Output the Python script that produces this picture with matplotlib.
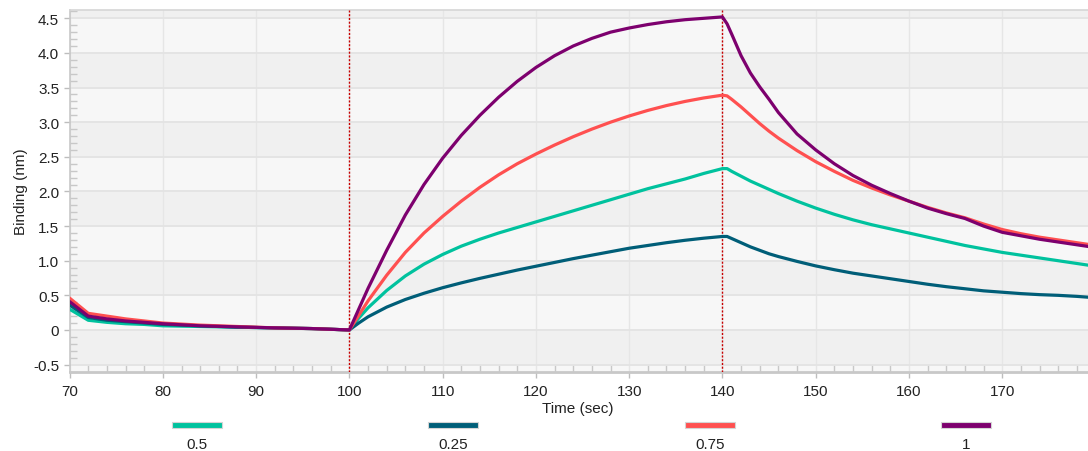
import matplotlib
matplotlib.use("Agg")
import matplotlib.pyplot as plt
from matplotlib.patches import Rectangle
from matplotlib.ticker import MultipleLocator, FixedLocator, FixedFormatter

plt.rcParams['font.family'] = ['Liberation Sans', 'DejaVu Sans']

# Sensorgram time base (sec)
time_s = [70, 72, 74, 76, 78, 80, 84, 88, 92, 96, 100, 101, 102, 104, 106, 108,
          110, 112, 114, 116, 118, 120, 122, 124, 126, 128, 130, 132, 134, 136,
          138, 140, 140.5, 141, 142, 143, 144, 145, 146, 148, 150, 152, 154, 156,
          158, 160, 162, 164, 166, 168, 170, 172, 174, 176, 178, 179.5]

# Binding response (nm) for each analyte concentration
binding_0_5 = [0.30, 0.14, 0.11, 0.09, 0.08, 0.06, 0.05, 0.04, 0.03, 0.02, 0.00,
               0.17, 0.32, 0.57, 0.78, 0.95, 1.09, 1.21, 1.31, 1.40, 1.48, 1.56,
               1.64, 1.72, 1.80, 1.88, 1.96, 2.04, 2.11, 2.18, 2.26, 2.33, 2.33,
               2.29, 2.22, 2.15, 2.09, 2.03, 1.97, 1.86, 1.76, 1.67, 1.59, 1.52,
               1.46, 1.40, 1.34, 1.28, 1.22, 1.17, 1.12, 1.08, 1.04, 1.00, 0.96, 0.93]

binding_0_25 = [0.36, 0.18, 0.14, 0.12, 0.10, 0.08, 0.06, 0.04, 0.03, 0.02, 0.00,
                0.10, 0.19, 0.33, 0.44, 0.53, 0.61, 0.68, 0.745, 0.805, 0.865, 0.92,
                0.975, 1.03, 1.08, 1.13, 1.18, 1.22, 1.26, 1.295, 1.325, 1.35, 1.35,
                1.32, 1.26, 1.20, 1.15, 1.10, 1.06, 0.99, 0.925, 0.87, 0.82, 0.78,
                0.74, 0.70, 0.66, 0.625, 0.595, 0.565, 0.545, 0.525, 0.51, 0.50, 0.485, 0.47]

binding_0_75 = [0.46, 0.24, 0.20, 0.16, 0.13, 0.10, 0.07, 0.05, 0.03, 0.02, 0.00,
                0.21, 0.42, 0.79, 1.12, 1.40, 1.64, 1.86, 2.06, 2.24, 2.40, 2.54,
                2.67, 2.79, 2.90, 3.00, 3.09, 3.17, 3.24, 3.30, 3.35, 3.39, 3.38,
                3.33, 3.22, 3.10, 2.98, 2.87, 2.77, 2.59, 2.43, 2.29, 2.16, 2.05,
                1.95, 1.86, 1.77, 1.69, 1.62, 1.53, 1.45, 1.39, 1.34, 1.30, 1.26, 1.23]

binding_1 = [0.41, 0.20, 0.16, 0.13, 0.11, 0.09, 0.06, 0.045, 0.03, 0.02, 0.00,
             0.30, 0.60, 1.15, 1.66, 2.10, 2.48, 2.81, 3.10, 3.36, 3.59, 3.79,
             3.96, 4.10, 4.21, 4.30, 4.36, 4.41, 4.45, 4.48, 4.50, 4.52, 4.42,
             4.27, 3.96, 3.71, 3.51, 3.33, 3.14, 2.83, 2.60, 2.40, 2.23, 2.09,
             1.97, 1.86, 1.76, 1.68, 1.61, 1.50, 1.41, 1.36, 1.31, 1.27, 1.23, 1.20]

series_labels = ['0.5', '0.25', '0.75', '1']
series_values = [binding_0_5, binding_0_25, binding_0_75, binding_1]
series_colors = ['#00C29E', '#005E78', '#FF5050', '#7D006E']

# Step boundaries (association start / dissociation start)
step_times = [100, 140]

x_ticks = [70, 80, 90, 100, 110, 120, 130, 140, 150, 160, 170]
y_ticks = [-0.5, 0, 0.5, 1.0, 1.5, 2.0, 2.5, 3.0, 3.5, 4.0, 4.5]
y_tick_labels = ['-0.5', '0', '0.5', '1.0', '1.5', '2.0', '2.5', '3.0', '3.5', '4.0', '4.5']

W, H = 1088, 452
fig = plt.figure(figsize=(W / 100, H / 100), dpi=100)
fig.patch.set_facecolor('white')

ax_left, ax_right, ax_top, ax_bottom = 69.6, 1088, 11, 373
ax = fig.add_axes([ax_left / W, 1 - ax_bottom / H,
                   (ax_right - ax_left) / W, (ax_bottom - ax_top) / H])
ax.set_xlim(70, 179.2)
ax.set_ylim(-0.607, 4.62)
ax.set_facecolor('#f7f7f7')

# alternating horizontal bands
for lo in [-0.5, 0.5, 1.5, 2.5, 3.5, 4.5]:
    ax.axhspan(lo, lo + 0.5, color='#f0f0f0', zorder=0, lw=0)

ax.set_axisbelow(True)
ax.grid(True, which='major', axis='y', color='#e3e3e3', lw=1.3)
ax.grid(True, which='major', axis='x', color='#e6e6e6', lw=1.0)

ax.spines['right'].set_visible(False)
ax.spines['top'].set_color('#d6d6d6')
ax.spines['top'].set_linewidth(1.2)
ax.spines['left'].set_color('#c8c8c8')
ax.spines['left'].set_linewidth(1.2)
ax.spines['bottom'].set_color('#c8c8c8')
ax.spines['bottom'].set_linewidth(2)

ax.xaxis.set_major_locator(FixedLocator(x_ticks))
ax.xaxis.set_minor_locator(MultipleLocator(2))
ax.yaxis.set_major_locator(FixedLocator(y_ticks))
ax.yaxis.set_major_formatter(FixedFormatter(y_tick_labels))
ax.yaxis.set_minor_locator(MultipleLocator(0.1))

ax.tick_params(axis='both', which='major', direction='out', length=4.5,
               color='#bdbdbd', width=1, labelsize=11, labelcolor='#222222', pad=3)
ax.tick_params(axis='x', which='major', pad=4)
ax.tick_params(axis='both', which='minor', direction='in', length=5,
               color='#c8c8c8', width=1)

for t in step_times:
    ax.axvline(t, color='#c80000', lw=1.0, ls=(0, (1.5, 1.2)), zorder=3)

for vals, col in zip(series_values, series_colors):
    ax.plot(time_s, vals, color=col, lw=2.3, solid_joinstyle='round',
            solid_capstyle='round', zorder=4)

fig.text(578 / W, 1 - 409 / H, 'Time (sec)',
         ha='center', va='center', fontsize=11, color='#222222')
fig.text(21 / W, 1 - 192 / H, 'Binding (nm)', rotation=90,
         ha='center', va='center', fontsize=11, color='#222222')

# legend row: colour bar with label beneath
legend_centers = [197, 453, 710, 966]
bar_w, bar_h = 50, 6
for cx, lab, col in zip(legend_centers, series_labels, series_colors):
    fig.patches.append(Rectangle(((cx - bar_w / 2) / W, 1 - 429 / H),
                                 bar_w / W, bar_h / H, transform=fig.transFigure,
                                 facecolor=col, edgecolor='#d4d4d4', lw=0.8))
    fig.text(cx / W, 1 - 445 / H, lab, ha='center', va='center',
             fontsize=11, color='#222222')

fig.savefig('out.png', dpi=100)
